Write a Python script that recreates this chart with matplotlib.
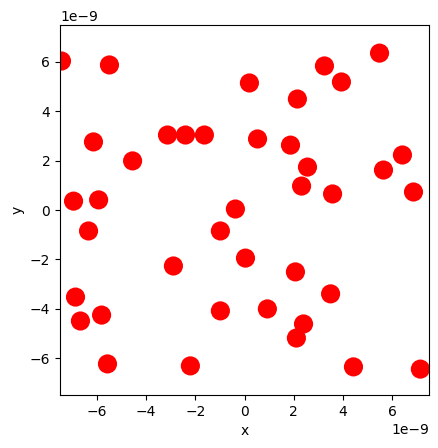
import numpy as np
import matplotlib
matplotlib.use("Agg")
import matplotlib.pyplot as plt

x = np.array([-7.44, -5.49, -6.14, -6.95, -5.93, -4.55, -3.13, -2.40, -1.63, 0.20,
              3.25, 3.94, 5.49, 2.15, 0.53, 1.87, 2.56, 2.32, 3.58,
              6.42, 5.65, 6.87, -0.37, -6.34, -2.89, -6.87, -6.67, -5.81, -5.57,
              -2.20, -0.98, -0.98, 0.04, 2.07, 3.50, 0.93, 2.40, 2.11, 4.43, 7.15]) * 1e-9
y = np.array([6.04, 5.88, 2.76, 0.36, 0.41, 1.99, 3.04, 3.04, 3.04, 5.15,
              5.84, 5.19, 6.36, 4.50, 2.88, 2.63, 1.74, 0.97, 0.65,
              2.23, 1.62, 0.73, 0.04, -0.85, -2.27, -3.53, -4.50, -4.26, -6.24,
              -6.32, -0.85, -4.09, -1.95, -2.51, -3.40, -4.01, -4.62, -5.19, -6.36, -6.45]) * 1e-9

fig = plt.figure(figsize=(4.39, 4.48), dpi=100)
ax = fig.add_axes([0.1367, 0.1183, 0.8405, 0.8259])
ax.scatter(x, y, s=190, c='red', edgecolors='none', clip_on=True)
ax.set_xlim(-7.5e-9, 7.5e-9)
ax.set_ylim(-7.5e-9, 7.5e-9)
ax.set_xlabel('x')
ax.set_ylabel('y')
fig.savefig('out.png', dpi=100)
